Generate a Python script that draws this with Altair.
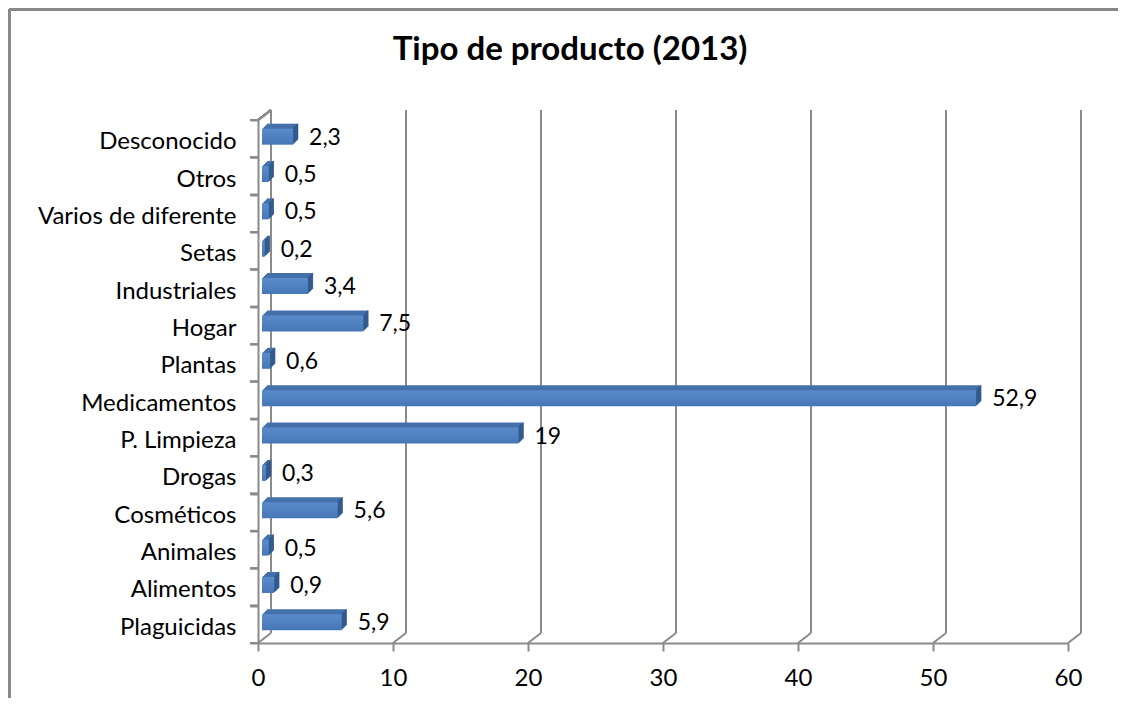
import altair as alt
import pandas as pd

# ---- data ----
categories = ["Desconocido", "Otros", "Varios de diferente", "Setas", "Industriales",
              "Hogar", "Plantas", "Medicamentos", "P. Limpieza", "Drogas",
              "Cosméticos", "Animales", "Alimentos", "Plaguicidas"]
values = [2.3, 0.5, 0.5, 0.2, 3.4, 7.5, 0.6, 52.9, 19, 0.3, 5.6, 0.5, 0.9, 5.9]
x_ticks = [0, 10, 20, 30, 40, 50, 60]
title_text = "Tipo de producto (2013)"

df = pd.DataFrame({"cat": categories, "v": values})
grid = pd.DataFrame({"g": x_ticks})
tdf = pd.DataFrame({"t": [title_text]})

# ---- style ----
FONT = "Lato"
GRAY = "#8a8a8a"
W, H = 810, 523
DX, DY = 13, 10
FRONT = alt.Gradient(gradient="linear", x1=0, y1=0, x2=0, y2=1,
                     stops=[alt.GradientStop(color="#5A8BCA", offset=0),
                            alt.GradientStop(color="#4676B5", offset=1)])
TOP = "#4470AB"
SIDE = "#2E5586"

xscale = alt.Scale(domain=[0, 60], nice=False, zero=True)
yscale = alt.Scale(domain=categories, paddingInner=0, paddingOuter=0)

x_axis = alt.Axis(values=x_ticks, title=None, grid=False, domainColor=GRAY, domainWidth=2,
                  tickColor=GRAY, tickWidth=2, tickSize=8, labelFontSize=24, labelFont=FONT,
                  labelColor="#000", labelPadding=15, labelFlush=False)
y_axis = alt.Axis(title=None, tickBand="extent", ticks=True, domainColor=GRAY, domainWidth=2,
                  tickColor=GRAY, tickWidth=2, tickSize=8, labelFontSize=24, labelFont=FONT,
                  labelColor="#000", labelPadding=14, labelLimit=300, labelOffset=3)

base = alt.Chart(df)
xe = alt.X("v:Q", scale=xscale, axis=x_axis)
ye = alt.Y("cat:N", sort=categories, scale=yscale, axis=y_axis)

g = alt.Chart(grid)
xg = alt.X("g:Q", scale=xscale, axis=x_axis)
grid_back = g.mark_rule(color=GRAY, strokeWidth=2, xOffset=DX).encode(
    x=xg, y=alt.value(-DY), y2=alt.value(H - DY))
grid_diag = g.mark_rule(color=GRAY, strokeWidth=2, x2Offset=DX).encode(
    x=xg, x2="g:Q", y=alt.value(H), y2=alt.value(H - DY))
top_diag = g.mark_rule(color=GRAY, strokeWidth=2).encode(
    x=alt.value(0), x2=alt.value(DX), y=alt.value(0), y2=alt.value(-DY))

# category boundary ticks on the left axis
cat_ticks_a = base.mark_rule(color=GRAY, strokeWidth=2).encode(
    y=alt.Y("cat:N", sort=categories, scale=yscale, axis=y_axis, bandPosition=0),
    x=alt.value(-8), x2=alt.value(0))
cat_ticks_b = base.mark_rule(color=GRAY, strokeWidth=2).encode(
    y=alt.Y("cat:N", sort=categories, scale=yscale, axis=y_axis, bandPosition=1),
    x=alt.value(-8), x2=alt.value(0))

layers = [grid_back, grid_diag, top_diag, cat_ticks_a, cat_ticks_b]

# depth (top face) of the 3D bars
for k in range(1, 6):
    layers.append(base.mark_bar(size=16, xOffset=4 + k, yOffset=-2 - k, color=TOP).encode(x=xe, y=ye))
# right face
for k in range(1, 6):
    layers.append(base.mark_tick(size=16, thickness=1.5, xOffset=3.5 + k, yOffset=-2 - k,
                                 color=SIDE).encode(x=xe, y=ye))
# front face
layers.append(base.mark_bar(size=16, xOffset=4, yOffset=-2, color=FRONT).encode(x=xe, y=ye))

labels = base.transform_calculate(
    lbl="replace(format(datum.v, '.1~f'), '.', ',')"
).mark_text(align="left", baseline="middle", dx=20, dy=-1, fontSize=23, font=FONT,
            color="#000").encode(x=xe, y=ye, text="lbl:N")
layers.append(labels)

title = alt.Chart(tdf).mark_text(font=FONT, fontSize=33, fontWeight="bold", color="#000",
                                 align="center", baseline="middle").encode(
    x=alt.value(312), y=alt.value(-70), text="t:N")
layers.append(title)

border_top = g.mark_rule(color="#888888", strokeWidth=3).encode(
    x=alt.value(-248.5), x2=alt.value(860), y=alt.value(-110.5))
border_left = g.mark_rule(color="#888888", strokeWidth=3).encode(
    x=alt.value(-248.5), y=alt.value(-110.5), y2=alt.value(580))
layers += [border_top, border_left]

chart = alt.layer(*layers).properties(
    width=W, height=H,
    padding={"left": 250, "top": 112, "right": 50, "bottom": 55},
    autosize=alt.AutoSizeParams(type="none"),
    background="white",
).configure_view(stroke=None)

chart.save("out.html", embed_options={"renderer": "svg", "actions": False})
